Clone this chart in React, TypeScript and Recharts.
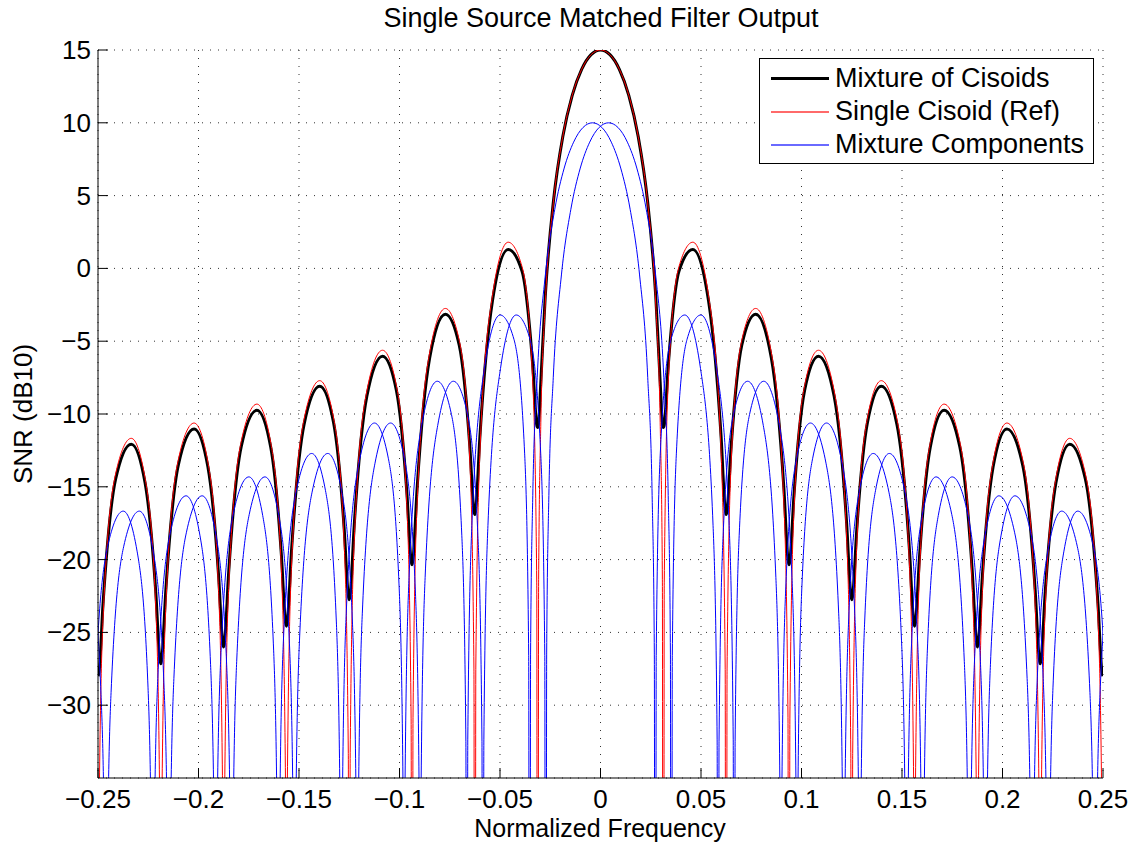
import React from "react";
import { LineChart, Line, XAxis, YAxis, CartesianGrid, Legend } from "recharts";

const FONT = "'Liberation Sans', Arial, Helvetica, sans-serif";

// shared frequency grid for the mixture and the single reference cisoid
const FREQ = [
  -0.25, -0.24953, -0.2475, -0.24125, -0.23344, -0.22656, -0.22125, -0.21922,
  -0.21875, -0.21828, -0.21625, -0.21, -0.20219, -0.19531, -0.19, -0.18797,
  -0.1875, -0.18703, -0.185, -0.17875, -0.17094, -0.16406, -0.15875, -0.15672,
  -0.15625, -0.15578, -0.15375, -0.1475, -0.13969, -0.13281, -0.1275, -0.12547,
  -0.125, -0.12453, -0.1225, -0.11625, -0.10844, -0.10156, -0.09625, -0.09422,
  -0.09375, -0.09328, -0.09125, -0.085, -0.07719, -0.07031, -0.065, -0.06297,
  -0.0625, -0.06203, -0.06, -0.05375, -0.04594, -0.03906, -0.03375, -0.03172,
  -0.03125, -0.03078, -0.02969, -0.0275, -0.02344, -0.01875, -0.01406, -0.00938, -0.00469,
  0,
  0.00469, 0.00938, 0.01406, 0.01875, 0.02344, 0.0275, 0.02969, 0.03078,
  0.03125, 0.03172, 0.03375, 0.03906, 0.04594, 0.05375, 0.06, 0.06203,
  0.0625, 0.06297, 0.065, 0.07031, 0.07719, 0.085, 0.09125, 0.09328,
  0.09375, 0.09422, 0.09625, 0.10156, 0.10844, 0.11625, 0.1225, 0.12453,
  0.125, 0.12547, 0.1275, 0.13281, 0.13969, 0.1475, 0.15375, 0.15578,
  0.15625, 0.15672, 0.15875, 0.16406, 0.17094, 0.17875, 0.185, 0.18703,
  0.1875, 0.18797, 0.19, 0.19531, 0.20219, 0.21, 0.21625, 0.21828,
  0.21875, 0.21922, 0.22125, 0.22656, 0.23344, 0.24125, 0.2475, 0.24953,
  0.25,
];

// black thick curve
const MIXTURE_DB = [
  -28.0, -27.79, -23.04, -14.48, -12.07, -14.74, -22.24, -26.87,
  -27.16, -26.83, -22.08, -13.48, -11.03, -13.64, -21.1, -25.71,
  -26.0, -25.67, -20.9, -12.25, -9.75, -12.29, -19.7, -24.29,
  -24.57, -24.24, -19.44, -10.73, -8.1, -10.59, -17.92, -22.48,
  -22.76, -22.42, -17.59, -8.78, -6.03, -8.36, -15.58, -20.09,
  -20.36, -20.01, -15.13, -6.15, -3.15, -5.25, -12.24, -16.66,
  -16.91, -16.53, -11.56, -2.23, 1.3, -0.19, -6.6, -10.75,
  -10.93, -10.62, -7.8, -1.94, 4.58, 9.06, 11.89, 13.67, 14.68,
  15.0,
  14.68, 13.67, 11.89, 9.06, 4.58, -1.94, -7.8, -10.62,
  -10.93, -10.75, -6.6, -0.19, 1.3, -2.23, -11.56, -16.53,
  -16.91, -16.66, -12.24, -5.25, -3.15, -6.15, -15.13, -20.01,
  -20.36, -20.09, -15.58, -8.36, -6.03, -8.78, -17.59, -22.42,
  -22.76, -22.48, -17.92, -10.59, -8.1, -10.73, -19.44, -24.24,
  -24.57, -24.29, -19.7, -12.29, -9.75, -12.25, -20.9, -25.67,
  -26.0, -25.71, -21.1, -13.64, -11.03, -13.48, -22.08, -26.83,
  -27.16, -26.87, -22.24, -14.74, -12.07, -14.48, -23.04, -27.79,
  -28.0,
];

// red reference, nulls drop far below the axis floor
const SINGLE_DB = [
  -100, -38.64, -24.13, -14.12, -11.67, -14.42, -23.33, -37.72,
  -100, -37.68, -23.17, -13.12, -10.62, -13.32, -22.19, -36.56,
  -100, -36.52, -21.99, -11.89, -9.32, -11.97, -20.79, -35.14,
  -100, -35.09, -20.53, -10.37, -7.71, -10.27, -19.01, -33.33,
  -100, -33.27, -18.68, -8.42, -5.62, -8.04, -16.67, -30.94,
  -100, -30.86, -16.22, -5.79, -2.75, -4.93, -13.33, -27.51,
  -100, -27.38, -12.65, -1.87, 1.8, 0.13, -7.69, -21.6,
  -100, -21.35, -10.6, -2.51, 4.55, 9.06, 11.89, 13.67, 14.68,
  15.0,
  14.68, 13.67, 11.89, 9.06, 4.55, -2.51, -10.6, -21.35,
  -100, -21.6, -7.69, 0.13, 1.8, -1.87, -12.65, -27.38,
  -100, -27.51, -13.33, -4.93, -2.75, -5.79, -16.22, -30.86,
  -100, -30.94, -16.67, -8.04, -5.62, -8.42, -18.68, -33.27,
  -100, -33.33, -19.01, -10.27, -7.71, -10.37, -20.53, -35.09,
  -100, -35.14, -20.79, -11.97, -9.32, -11.89, -21.99, -36.52,
  -100, -36.56, -22.19, -13.32, -10.62, -13.12, -23.17, -37.68,
  -100, -37.72, -23.33, -14.42, -11.67, -14.12, -24.13, -38.64,
  -100,
];

// blue component centred just below zero
const COMP_LO_FREQ = [
  -0.254, -0.25353, -0.2515, -0.24525, -0.23744, -0.23056, -0.22525, -0.22322,
  -0.22275, -0.22228, -0.22025, -0.214, -0.20619, -0.19931, -0.194, -0.19197,
  -0.1915, -0.19103, -0.189, -0.18275, -0.17494, -0.16806, -0.16275, -0.16072,
  -0.16025, -0.15978, -0.15775, -0.1515, -0.14369, -0.13681, -0.1315, -0.12947,
  -0.129, -0.12853, -0.1265, -0.12025, -0.11244, -0.10556, -0.10025, -0.09822,
  -0.09775, -0.09728, -0.09525, -0.089, -0.08119, -0.07431, -0.069, -0.06697,
  -0.0665, -0.06603, -0.064, -0.05775, -0.04994, -0.04306, -0.03775, -0.03572,
  -0.03525, -0.03478, -0.03369, -0.0315, -0.02744, -0.02275, -0.01806, -0.01338, -0.00869,
  -0.004,
  0.00069, 0.00538, 0.01006, 0.01475, 0.01944, 0.0235, 0.02569, 0.02678,
  0.02725, 0.02772, 0.02975, 0.03506, 0.04194, 0.04975, 0.056, 0.05803,
  0.0585, 0.05897, 0.061, 0.06631, 0.07319, 0.081, 0.08725, 0.08928,
  0.08975, 0.09022, 0.09225, 0.09756, 0.10444, 0.11225, 0.1185, 0.12053,
  0.121, 0.12147, 0.1235, 0.12881, 0.13569, 0.1435, 0.14975, 0.15178,
  0.15225, 0.15272, 0.15475, 0.16006, 0.16694, 0.17475, 0.181, 0.18303,
  0.1835, 0.18397, 0.186, 0.19131, 0.19819, 0.206, 0.21225, 0.21428,
  0.21475, 0.21522, 0.21725, 0.22256, 0.22944, 0.23725, 0.2435, 0.24553,
  0.246, 0.24647, 0.2485, 0.25381,
];
const COMP_LO_DB = [
  -100, -43.64, -29.13, -19.12, -16.67, -19.42, -28.33, -42.72,
  -100, -42.68, -28.17, -18.12, -15.62, -18.32, -27.19, -41.56,
  -100, -41.52, -26.99, -16.89, -14.32, -16.97, -25.79, -40.14,
  -100, -40.09, -25.53, -15.37, -12.71, -15.27, -24.01, -38.33,
  -100, -38.27, -23.68, -13.42, -10.62, -13.04, -21.67, -35.94,
  -100, -35.86, -21.22, -10.79, -7.75, -9.93, -18.33, -32.51,
  -100, -32.38, -17.65, -6.87, -3.2, -4.87, -12.69, -26.6,
  -100, -26.35, -15.6, -7.51, -0.45, 4.06, 6.89, 8.67, 9.68,
  10.0,
  9.68, 8.67, 6.89, 4.06, -0.45, -7.51, -15.6, -26.35,
  -100, -26.6, -12.69, -4.87, -3.2, -6.87, -17.65, -32.38,
  -100, -32.51, -18.33, -9.93, -7.75, -10.79, -21.22, -35.86,
  -100, -35.94, -21.67, -13.04, -10.62, -13.42, -23.68, -38.27,
  -100, -38.33, -24.01, -15.27, -12.71, -15.37, -25.53, -40.09,
  -100, -40.14, -25.79, -16.97, -14.32, -16.89, -26.99, -41.52,
  -100, -41.56, -27.19, -18.32, -15.62, -18.12, -28.17, -42.68,
  -100, -42.72, -28.33, -19.42, -16.67, -19.12, -29.13, -43.64,
  -100, -43.66, -29.27, -20.33,
];

// blue component centred just above zero
const COMP_HI_FREQ = [
  -0.25381, -0.2485, -0.24647, -0.246,
  -0.24553, -0.2435, -0.23725, -0.22944, -0.22256, -0.21725, -0.21522, -0.21475,
  -0.21428, -0.21225, -0.206, -0.19819, -0.19131, -0.186, -0.18397, -0.1835,
  -0.18303, -0.181, -0.17475, -0.16694, -0.16006, -0.15475, -0.15272, -0.15225,
  -0.15178, -0.14975, -0.1435, -0.13569, -0.12881, -0.1235, -0.12147, -0.121,
  -0.12053, -0.1185, -0.11225, -0.10444, -0.09756, -0.09225, -0.09022, -0.08975,
  -0.08928, -0.08725, -0.081, -0.07319, -0.06631, -0.061, -0.05897, -0.0585,
  -0.05803, -0.056, -0.04975, -0.04194, -0.03506, -0.02975, -0.02772, -0.02725,
  -0.02678, -0.02569, -0.0235, -0.01944, -0.01475, -0.01006, -0.00538, -0.00069,
  0.004,
  0.00869, 0.01338, 0.01806, 0.02275, 0.02744, 0.0315, 0.03369, 0.03478, 0.03525,
  0.03572, 0.03775, 0.04306, 0.04994, 0.05775, 0.064, 0.06603, 0.0665,
  0.06697, 0.069, 0.07431, 0.08119, 0.089, 0.09525, 0.09728, 0.09775,
  0.09822, 0.10025, 0.10556, 0.11244, 0.12025, 0.1265, 0.12853, 0.129,
  0.12947, 0.1315, 0.13681, 0.14369, 0.1515, 0.15775, 0.15978, 0.16025,
  0.16072, 0.16275, 0.16806, 0.17494, 0.18275, 0.189, 0.19103, 0.1915,
  0.19197, 0.194, 0.19931, 0.20619, 0.214, 0.22025, 0.22228, 0.22275,
  0.22322, 0.22525, 0.23056, 0.23744, 0.24525, 0.2515, 0.25353, 0.254,
];
const COMP_HI_DB = [
  -20.33, -29.27, -43.66, -100,
  -43.64, -29.13, -19.12, -16.67, -19.42, -28.33, -42.72, -100,
  -42.68, -28.17, -18.12, -15.62, -18.32, -27.19, -41.56, -100,
  -41.52, -26.99, -16.89, -14.32, -16.97, -25.79, -40.14, -100,
  -40.09, -25.53, -15.37, -12.71, -15.27, -24.01, -38.33, -100,
  -38.27, -23.68, -13.42, -10.62, -13.04, -21.67, -35.94, -100,
  -35.86, -21.22, -10.79, -7.75, -9.93, -18.33, -32.51, -100,
  -32.38, -17.65, -6.87, -3.2, -4.87, -12.69, -26.6, -100,
  -26.35, -15.6, -7.51, -0.45, 4.06, 6.89, 8.67, 9.68,
  10.0,
  9.68, 8.67, 6.89, 4.06, -0.45, -7.51, -15.6, -26.35, -100,
  -26.6, -12.69, -4.87, -3.2, -6.87, -17.65, -32.38, -100,
  -32.51, -18.33, -9.93, -7.75, -10.79, -21.22, -35.86, -100,
  -35.94, -21.67, -13.04, -10.62, -13.42, -23.68, -38.27, -100,
  -38.33, -24.01, -15.27, -12.71, -15.37, -25.53, -40.09, -100,
  -40.14, -25.79, -16.97, -14.32, -16.89, -26.99, -41.52, -100,
  -41.56, -27.19, -18.32, -15.62, -18.12, -28.17, -42.68, -100,
  -42.72, -28.33, -19.42, -16.67, -19.12, -29.13, -43.64, -100,
];

const X_TICKS = [-0.25, -0.2, -0.15, -0.1, -0.05, 0, 0.05, 0.1, 0.15, 0.2, 0.25];
const Y_TICKS = [-30, -25, -20, -15, -10, -5, 0, 5, 10, 15];

const LEGEND_ROWS = [
  { label: "Mixture of Cisoids", color: "#000000", width: 3 },
  { label: "Single Cisoid (Ref)", color: "#ff6a6a", width: 2 },
  { label: "Mixture Components", color: "#6a6aff", width: 2 },
];

const toPoints = (xs: number[], ys: number[]) => xs.map((x, i) => ({ x, y: ys[i] }));

const MIXTURE = toPoints(FREQ, MIXTURE_DB);
const SINGLE = toPoints(FREQ, SINGLE_DB);
const COMP_LO = toPoints(COMP_LO_FREQ, COMP_LO_DB);
const COMP_HI = toPoints(COMP_HI_FREQ, COMP_HI_DB);

const TICK_LEN = 10;
const FS = 26;

const fmt = (v: number) => (v < 0 ? "\u2212" : "") + String(Math.abs(v));

function BottomTick({ x, y, payload }: any) {
  return (
    <g>
      <line x1={x} y1={y} x2={x} y2={y - TICK_LEN} stroke="#000" />
      <text x={x} y={y + 30} textAnchor="middle" fontSize={FS} fontFamily={FONT} fill="#000">
        {fmt(payload.value)}
      </text>
    </g>
  );
}

function LeftTick({ x, y, payload }: any) {
  return (
    <g>
      <line x1={x} y1={y} x2={x + TICK_LEN} y2={y} stroke="#000" />
      <text x={x - 7} y={y + 9} textAnchor="end" fontSize={FS} fontFamily={FONT} fill="#000">
        {fmt(payload.value)}
      </text>
    </g>
  );
}

function TopTick({ x, y }: any) {
  return <line x1={x} y1={y} x2={x} y2={y + TICK_LEN} stroke="#000" />;
}

function RightTick({ x, y }: any) {
  return <line x1={x} y1={y} x2={x - TICK_LEN} y2={y} stroke="#000" />;
}

function LegendBox() {
  return (
    <div
      style={{
        boxSizing: "border-box",
        width: 335,
        height: 106,
        border: "1px solid #000",
        background: "#fff",
        paddingTop: 3,
        fontFamily: FONT,
      }}
    >
      {LEGEND_ROWS.map((r) => (
        <div key={r.label} style={{ display: "flex", alignItems: "center", height: 33 }}>
          <div style={{ width: 58, height: r.width, background: r.color, marginLeft: 11, marginRight: 1 }} />
          <span style={{ fontSize: 27, marginLeft: 5, lineHeight: "33px", color: "#000", whiteSpace: "nowrap" }}>
            {r.label}
          </span>
        </div>
      ))}
    </div>
  );
}

export default function App() {
  return (
    <div style={{ position: "absolute", left: 0, top: 0, width: 1133, height: 842, background: "#fff" }}>
      <LineChart width={1133} height={842} margin={{ top: 50, right: 30, bottom: 0, left: 0 }}>
        <CartesianGrid stroke="#333" strokeDasharray="1 7" />
        <XAxis
          dataKey="x"
          type="number"
          domain={[-0.25, 0.25]}
          ticks={X_TICKS}
          interval={0}
          allowDataOverflow
          height={64}
          tickSize={0}
          tickMargin={0}
          tickLine={false}
          axisLine={{ stroke: "#000" }}
          tick={<BottomTick />}
        />
        <XAxis
          xAxisId="top"
          orientation="top"
          dataKey="x"
          type="number"
          domain={[-0.25, 0.25]}
          ticks={X_TICKS}
          interval={0}
          allowDataOverflow
          height={0}
          tickSize={0}
          tickMargin={0}
          tickLine={false}
          axisLine={{ stroke: "#000" }}
          tick={<TopTick />}
        />
        <YAxis
          type="number"
          domain={[-35, 15]}
          ticks={Y_TICKS}
          interval={0}
          allowDataOverflow
          width={98}
          tickSize={0}
          tickMargin={0}
          tickLine={false}
          axisLine={{ stroke: "#000" }}
          tick={<LeftTick />}
        />
        <YAxis
          yAxisId="right"
          orientation="right"
          type="number"
          domain={[-35, 15]}
          ticks={Y_TICKS}
          interval={0}
          allowDataOverflow
          width={0}
          tickSize={0}
          tickMargin={0}
          tickLine={false}
          axisLine={{ stroke: "#000" }}
          tick={<RightTick />}
        />
        <Line data={MIXTURE} dataKey="y" type="monotone" stroke="#000000" strokeWidth={3} dot={false} isAnimationActive={false} />
        <Line data={SINGLE} dataKey="y" type="monotone" stroke="#ff0000" strokeWidth={1} dot={false} isAnimationActive={false} />
        <Line data={COMP_LO} dataKey="y" type="monotone" stroke="#0000ff" strokeWidth={1} dot={false} isAnimationActive={false} />
        <Line data={COMP_HI} dataKey="y" type="monotone" stroke="#0000ff" strokeWidth={1} dot={false} isAnimationActive={false} />
        <Legend
          layout="vertical"
          align="center"
          verticalAlign="middle"
          content={() => <LegendBox />}
          wrapperStyle={{ left: 759, top: 58, width: 335, height: 106 }}
        />
      </LineChart>
      <svg
        width={1133}
        height={842}
        style={{ position: "absolute", left: 0, top: 0, pointerEvents: "none" }}
        fontFamily={FONT}
        fill="#000"
      >
        <text x={601} y={27} textAnchor="middle" fontSize={27}>Single Source Matched Filter Output</text>
        <text x={600} y={837} textAnchor="middle" fontSize={25}>Normalized Frequency</text>
        <text x={32} y={414} textAnchor="middle" fontSize={FS} transform="rotate(-90 32 414)">SNR (dB10)</text>
      </svg>
    </div>
  );
}
